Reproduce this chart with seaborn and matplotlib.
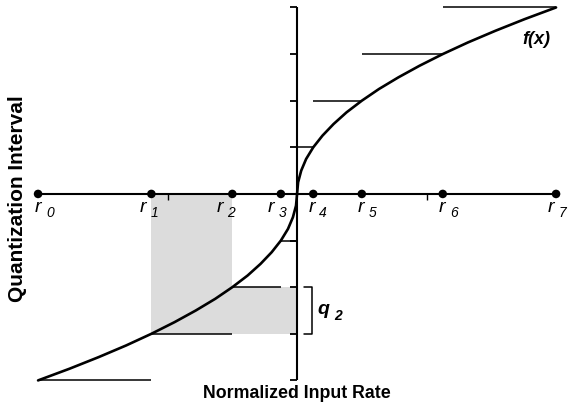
import matplotlib
matplotlib.use('Agg')
import matplotlib.pyplot as plt
import numpy as np
import pandas as pd
import seaborn as sns

# decision levels on the input axis
r_labels = ['0', '1', '2', '3', '4', '5', '6', '7']
r_values = [-1.0, -0.5625, -0.25, -0.0625, 0.0625, 0.25, 0.5625, 1.0]

# compander curve f(x)
curve_x = [-1.0, -0.879, -0.766, -0.660, -0.5625, -0.473, -0.391, -0.316, -0.25,
           -0.191, -0.141, -0.098, -0.0625, -0.035, -0.016, -0.004, 0.0,
           0.004, 0.016, 0.035, 0.0625, 0.098, 0.141, 0.191, 0.25,
           0.316, 0.391, 0.473, 0.5625, 0.660, 0.766, 0.879, 1.0]
curve_y = [-1.0, -0.9375, -0.875, -0.8125, -0.75, -0.6875, -0.625, -0.5625, -0.5,
           -0.4375, -0.375, -0.3125, -0.25, -0.1875, -0.125, -0.0625, 0.0,
           0.0625, 0.125, 0.1875, 0.25, 0.3125, 0.375, 0.4375, 0.5,
           0.5625, 0.625, 0.6875, 0.75, 0.8125, 0.875, 0.9375, 1.0]

# quantization levels: (level, start, end)
level_y = [-1.0, -0.75, -0.5, -0.25, 0.25, 0.5, 0.75, 1.0]
level_x0 = [-1.0, -0.5625, -0.25, -0.0625, 0.0, 0.0625, 0.25, 0.5625]
level_x1 = [-0.5625, -0.25, -0.0625, 0.0, 0.0625, 0.25, 0.5625, 1.0]

# tick positions on the two axes
y_ticks = [-1.0, -0.75, -0.5, -0.25, 0.0, 0.25, 0.5, 0.75, 1.0]
x_ticks = [-0.5, 0.5]

# label placement offsets (pixels) for the r labels
r_label_dx = [-3, -12, -16, -13, -5, -4, -4, -8]

sns.set_theme(style='white')
plt.rcParams['font.family'] = ['Liberation Sans', 'DejaVu Sans']
plt.rcParams['text.color'] = 'black'

fig = plt.figure(figsize=(5.69, 4.11), dpi=100)
ax = fig.add_axes([0, 0, 1, 1])
ax.set_xlim(-1.147, 1.050)
ax.set_ylim(-1.164, 1.040)
ax.axis('off')

gray = '#dcdcdc'
# shaded interval for r1..r2 and the matching q2 band
ax.fill_between([r_values[1], r_values[2]], level_y[1], 0, color=gray, lw=0, zorder=1)
ax.fill_between([r_values[1], 0.0], level_y[1], level_y[2], color=gray, lw=0, zorder=1)

# axes
ax.plot([-1, 1], [0, 0], color='black', lw=1.5, zorder=2, solid_capstyle='butt')
ax.plot([0, 0], [-1, 1], color='black', lw=1.5, zorder=2, solid_capstyle='butt')
ax.hlines(y_ticks, -0.027, 0, color='black', lw=1.3, zorder=2)
ax.vlines(x_ticks, -0.03, 0, color='black', lw=1.0, zorder=2)

# quantization levels
ax.hlines(level_y, level_x0, level_x1, color='black', lw=1.1, zorder=3)

# curve
curve = pd.DataFrame({'x': curve_x, 'y': curve_y})
sns.lineplot(data=curve, x='x', y='y', color='black', lw=1.9, sort=False,
             estimator=None, ax=ax, zorder=4)

# decision points
pts = pd.DataFrame({'x': r_values, 'y': [0.0] * len(r_values)})
sns.scatterplot(data=pts, x='x', y='y', color='black', s=38, edgecolor='none',
                ax=ax, zorder=5)
ax.set_xlabel('')
ax.set_ylabel('')

for lab, xv, dx in zip(r_labels, r_values, r_label_dx):
    ax.annotate('r', xy=(xv, 0), xytext=(dx, -18), textcoords='offset pixels',
                fontsize=14, fontstyle='italic', ha='left', va='baseline')
    ax.annotate(lab, xy=(xv, 0), xytext=(dx + 11, -23), textcoords='offset pixels',
                fontsize=10, fontstyle='italic', ha='left', va='baseline')

# q2 bracket
bx = 0.058
ax.plot([0.027, bx, bx, 0.027], [level_y[2], level_y[2], level_y[1], level_y[1]],
        color='black', lw=1.1, zorder=3)
ax.text(0.08, -0.622, 'q', fontsize=14, fontweight='bold', fontstyle='italic',
        ha='left', va='center')
ax.text(0.145, -0.655, '2', fontsize=10, fontweight='bold', fontstyle='italic',
        ha='left', va='center')

ax.text(0.923, 0.826, 'f(x)', fontsize=13, fontweight='bold', fontstyle='italic',
        ha='center', va='center')

fig.text(297 / 569, 1 - 393 / 411, 'Normalized Input Rate', fontsize=12.8,
         fontweight='bold', ha='center', va='center')
fig.text(18 / 569, 1 - 199 / 411, 'Quantization Interval', fontsize=15,
         fontweight='bold', ha='center', va='center', rotation=90)

fig.savefig('out.png', dpi=100)
